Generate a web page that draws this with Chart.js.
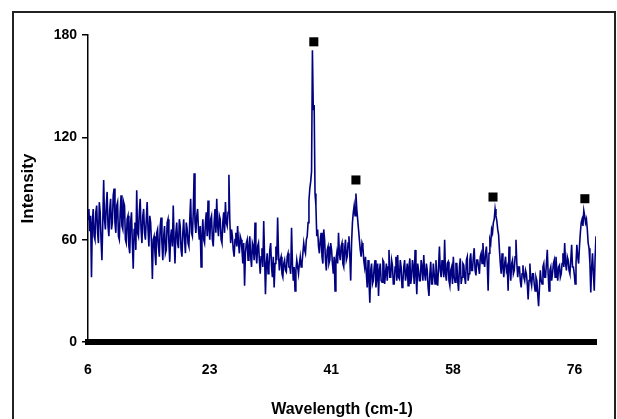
<!DOCTYPE html>
<html>
<head>
<meta charset="utf-8">
<script src="https://cdn.jsdelivr.net/npm/chart.js@4"></script>
<style>
  body{margin:0;background:#fff;}
  #wrap{position:relative;width:617px;height:419px;overflow:hidden;}
  #frame{position:absolute;left:12px;top:11px;width:600px;height:440px;border:2px solid #222;border-bottom:none;}
  canvas{position:absolute;left:0;top:0;}
</style>
</head>
<body>
<div id="wrap">
  <div id="frame"></div>
  <canvas id="chart" width="617" height="419"></canvas>
</div>
<script>
// intensity, one value every 0.125 from each segment start
const step = 0.125;
const segStart = [6, 14, 22, 30, 38, 46, 54, 62, 70];

const seg06 = [72,78,65,74,38,70,78,62,60,76,80,64,58,82,76,60,48,70,95,72,66,80,88,68,62,78,84,66,70,86,90,70,
               64,80,82,62,60,76,86,68,66,82,80,60,58,72,74,56,52,70,76,58,43,66,70,54,89,64,62,76,84,66,58,74];
const seg14 = [78,64,60,72,82,66,56,74,70,58,37,60,62,52,45,64,66,56,50,68,73,58,48,62,68,52,54,70,72,58,47,62,
               66,56,80,60,46,64,70,58,55,72,68,54,50,64,72,60,52,70,66,58,56,72,84,64,62,76,99,70,64,74,78,66];
const seg22 = [60,68,44,62,72,60,58,70,76,62,83,66,60,72,74,60,56,70,78,64,84,68,62,74,72,60,58,70,76,64,82,70,
               68,76,98,72,58,66,62,54,50,60,64,56,68,58,52,62,60,54,46,58,33,52,58,60,48,56,62,50,44,58,56,48];
const seg30 = [70,52,46,56,58,48,40,50,55,44,71,50,28,46,52,40,44,54,58,44,38,50,32,46,56,48,73,52,42,48,50,40,
               38,46,48,42,41,50,52,44,44,40,67,46,36,44,30,42,48,44,40,46,50,44,46,52,58,54,52,60,62,70,83,90];
const seg38 = [94,100,171,136,139,87,80,62,66,56,52,60,64,50,46,66,60,48,42,54,56,46,48,58,54,46,40,50,30,48,52,46,
               64,52,48,56,58,46,44,54,60,48,50,58,62,50,36,58,70,76,80,74,87,78,72,66,60,54,50,58,56,48,44,50];
const seg46 = [40,32,48,36,23,42,46,34,36,44,48,32,38,46,27,42,46,36,35,48,47,34,40,46,36,44,54,38,38,48,45,34,
               34,44,50,36,51,38,37,48,44,32,35,44,48,36,40,46,33,44,49,34,38,48,44,34,54,40,28,46,42,36,36,48];
const seg54 = [44,36,51,40,36,46,42,32,27,40,47,34,34,46,40,34,48,38,33,44,56,42,38,48,44,38,60,40,36,46,47,36,
               33,42,44,34,50,38,35,46,46,36,30,44,49,34,38,46,45,38,34,48,50,36,40,48,52,42,42,50,55,42,39,48];
const seg62 = [48,44,40,50,52,46,58,48,44,52,56,46,30,52,60,58,66,64,70,72,78,74,71,66,63,54,46,40,52,44,38,46,
               50,42,44,30,56,44,36,46,48,40,42,50,60,46,38,44,44,36,32,40,45,38,36,42,40,34,25,36,46,36,33,40];
const seg70 = [40,34,30,38,36,28,21,32,42,36,34,44,46,38,38,46,54,40,30,42,44,36,40,46,48,38,50,42,36,44,45,38,
               40,46,52,44,58,46,42,50,48,42,40,48,57,44,44,40,34,46,57,50,46,56,64,70,72,68,77,74,70,72,66,58,
               55,46,29,44,52,40,30,50,62];

// peak markers (black squares)
const markerX = [38.45, 44.5, 64.2, 77.4];
const markerY = [176, 95, 85, 84];

// axis ticks
const xTickValues = [6, 23.48, 40.96, 58.44, 75.92];
const xTickLabels = ['6', '23', '41', '58', '76'];
const yTickValues = [0, 60, 120, 180];

const segments = [seg06, seg14, seg22, seg30, seg38, seg46, seg54, seg62, seg70];
const spectrum = [];
segments.forEach((seg, s) => {
  seg.forEach((v, i) => {
    spectrum.push({x: segStart[s] + i * step, y: v});
  });
});

const markers = markerX.map((x, i) => ({x: x, y: markerY[i]}));

const boldFont = size => ({family: "'Liberation Sans', Arial, sans-serif", size: size, weight: 'bold'});

new Chart(document.getElementById('chart'), {
  type: 'line',
  data: {
    datasets: [
      {
        data: spectrum,
        borderColor: '#000080',
        borderWidth: 1.6,
        pointRadius: 0,
        tension: 0,
        fill: false
      },
      {
        type: 'scatter',
        data: markers,
        pointStyle: 'rect',
        pointRadius: 6.4,
        backgroundColor: '#000',
        borderColor: '#000',
        borderWidth: 0
      }
    ]
  },
  options: {
    responsive: false,
    animation: false,
    layout: {padding: {left: 0, top: 35, right: 21, bottom: 0}},
    plugins: {legend: {display: false}, tooltip: {enabled: false}},
    scales: {
      x: {
        type: 'linear',
        min: 6,
        max: 79,
        afterBuildTicks: axis => { axis.ticks = xTickValues.map(v => ({value: v})); },
        afterFit: axis => { axis.height = 77; },
        ticks: {
          color: '#000',
          font: boldFont(14),
          padding: 20,
          maxRotation: 0,
          callback: (v) => xTickLabels[xTickValues.indexOf(v)]
        },
        grid: {display: true, drawOnChartArea: false, drawTicks: false},
        border: {display: true, color: '#000', width: 6},
        title: {
          display: true,
          text: 'Wavelength (cm-1)',
          color: '#000',
          font: boldFont(16),
          padding: {top: 1, bottom: 0}
        }
      },
      y: {
        min: 0,
        max: 180,
        afterBuildTicks: axis => { axis.ticks = yTickValues.map(v => ({value: v})); },
        afterFit: axis => { axis.width = 88; },
        ticks: {color: '#000', font: boldFont(14), padding: 5},
        grid: {drawOnChartArea: false, drawTicks: true, tickLength: 6, color: '#000', lineWidth: 1.5},
        border: {display: true, color: '#000', width: 1.5},
        title: {
          display: true,
          text: 'Intensity',
          color: '#000',
          font: boldFont(17),
          padding: {top: 18, bottom: 0}
        }
      }
    }
  }
});
</script>
</body>
</html>
